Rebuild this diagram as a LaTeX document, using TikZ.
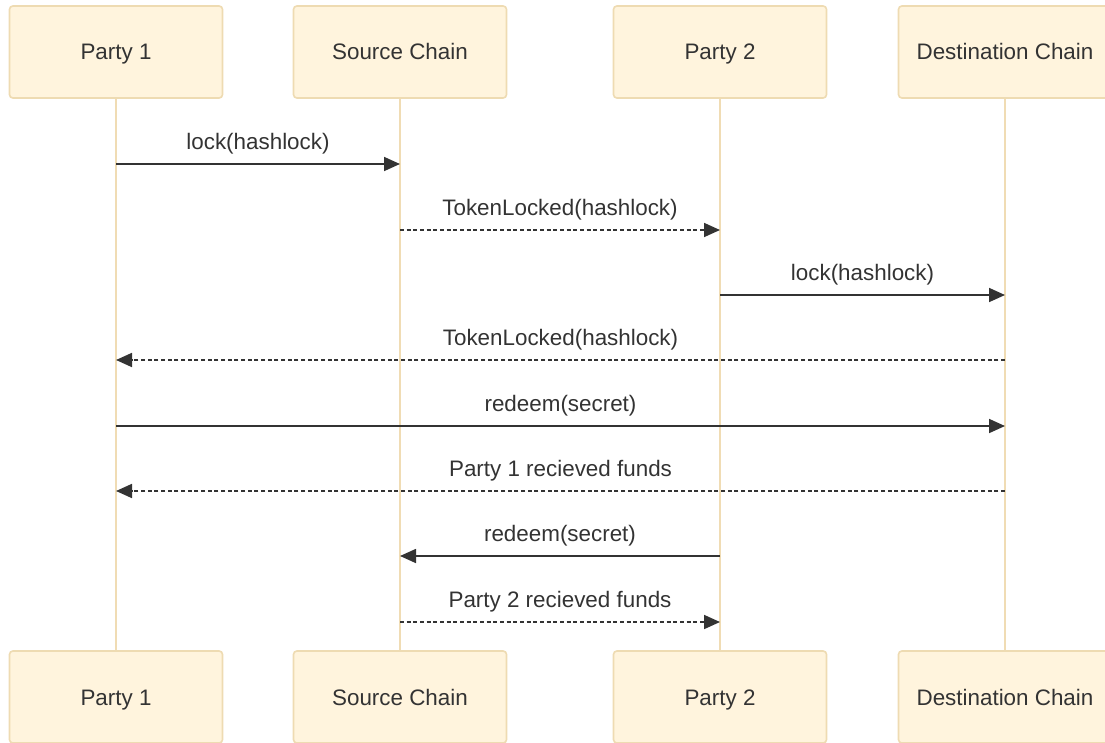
\documentclass[tikz,border=0pt]{standalone}
\usepackage{fontspec}
\setmainfont{Liberation Sans}
\usetikzlibrary{arrows.meta}
\definecolor{actorfill}{HTML}{FFF4DD}
\definecolor{actorline}{HTML}{EEDBB2}
\definecolor{lifecol}{HTML}{F0DCB4}
\definecolor{inkgray}{HTML}{333333}
\tikzset{
    actor/.style={draw=actorline, fill=actorfill, line width=1.2pt, rounded corners=2.5pt,
        minimum width=159.75pt, minimum height=69pt, inner sep=0pt,
        text height=12pt, text depth=0pt,
        text=inkgray, font=\fontsize{16.8}{20}\selectfont},
    life/.style={draw=lifecol, line width=2pt},
    msg/.style={draw=inkgray, line width=1.3pt, -{Triangle[length=12pt,width=10.5pt]}},
    reply/.style={msg, dash pattern=on 3pt off 2pt},
    lbl/.style={text=inkgray, inner sep=0pt, text height=12pt, text depth=4pt,
        font=\fontsize{16.8}{20}\selectfont}
}
\begin{document}
\begin{tikzpicture}[x=0.75pt, y=-0.75pt]
    \useasboundingbox (0,0) rectangle (1105,742);

    % lifelines, actors and one point per message row
    \foreach \name/\x/\txt in {pa/116/Party 1, sc/400/Source Chain, pb/720/Party 2, dc/1005/Destination Chain}{
        \draw[life] (\x,98) -- (\x,651);
        \node[actor] (\name-top) at (\x,52) {\txt};
        \node[actor] (\name-bot) at (\x,697) {\txt};
        \foreach \y [count=\i] in {164,230,295,360,426,491,556,622}{
            \coordinate (\name-\i) at (\x,\y);
        }
    }

    \draw[msg] (pa-1) -- (sc-1) node[lbl, pos=.5, above=6.5pt] {lock(hashlock)};
    \draw[reply] (sc-2) -- (pb-2) node[lbl, pos=.5, above=6.5pt] {TokenLocked(hashlock)};
    \draw[msg] (pb-3) -- (dc-3) node[lbl, pos=.5, above=6.5pt] {lock(hashlock)};
    \draw[reply] (dc-4) -- (pa-4) node[lbl, pos=.5, above=6.5pt] {TokenLocked(hashlock)};
    \draw[msg] (pa-5) -- (dc-5) node[lbl, pos=.5, above=6.5pt] {redeem(secret)};
    \draw[reply] (dc-6) -- (pa-6) node[lbl, pos=.5, above=6.5pt] {Party 1 recieved funds};
    \draw[msg] (pb-7) -- (sc-7) node[lbl, pos=.5, above=6.5pt] {redeem(secret)};
    \draw[reply] (sc-8) -- (pb-8) node[lbl, pos=.5, above=6.5pt] {Party 2 recieved funds};
\end{tikzpicture}
\end{document}
